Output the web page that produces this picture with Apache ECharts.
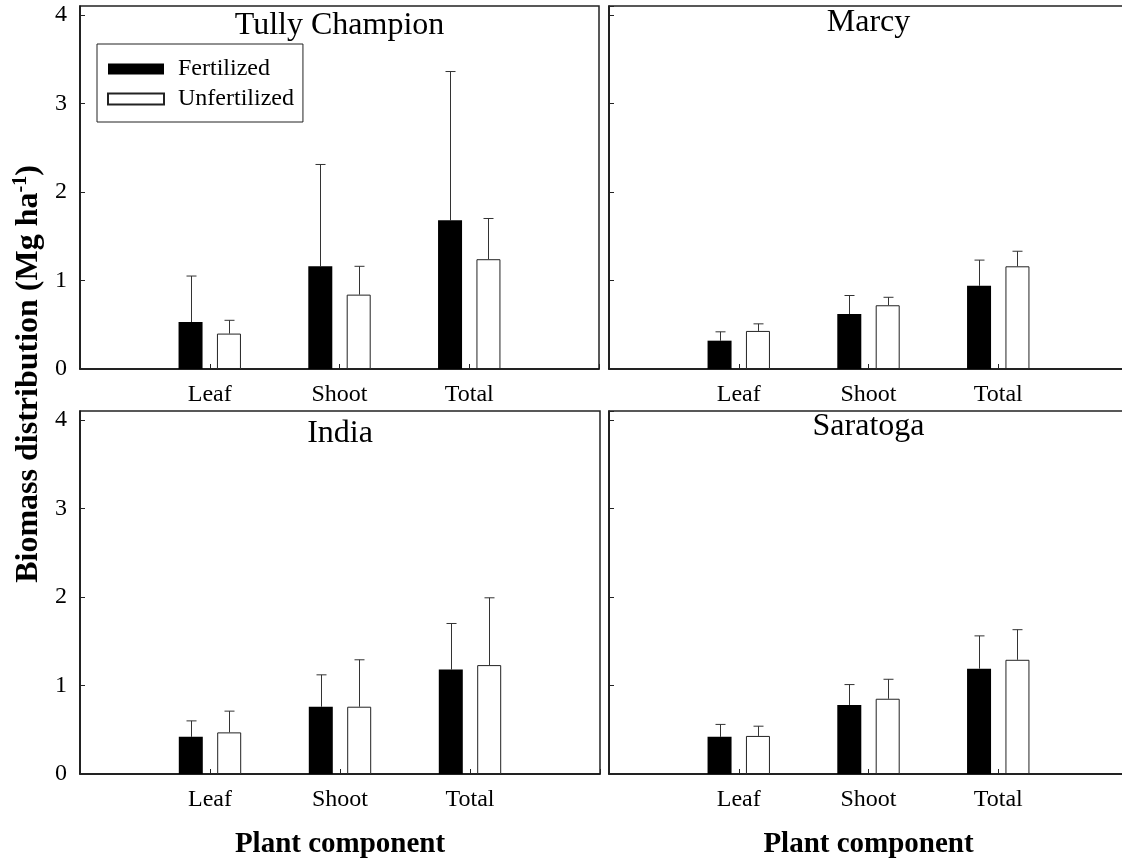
<!DOCTYPE html>
<html>
<head>
<meta charset="utf-8">
<script src="https://cdn.jsdelivr.net/npm/echarts@6/dist/echarts.min.js"></script>
<style>
  html, body { margin: 0; padding: 0; background: #fff; }
  #chart { width: 1122px; height: 860px; }
</style>
</head>
<body>
<div id="chart"></div>
<script>
// ---- data ----
const categories = ['Leaf', 'Shoot', 'Total'];
const panelTitles = ['Tully Champion', 'Marcy', 'India', 'Saratoga'];
const seriesNames = ['Fertilized', 'Unfertilized'];
const yTicks = [0, 1, 2, 3, 4];

const tullyFert = [0.53, 1.16, 1.68];
const tullyFertSD = [0.52, 1.15, 1.68];
const tullyUnfert = [0.40, 0.84, 1.24];
const tullyUnfertSD = [0.15, 0.32, 0.46];

const marcyFert = [0.32, 0.62, 0.94];
const marcyFertSD = [0.10, 0.21, 0.29];
const marcyUnfert = [0.43, 0.72, 1.16];
const marcyUnfertSD = [0.08, 0.09, 0.17];

const indiaFert = [0.42, 0.76, 1.18];
const indiaFertSD = [0.18, 0.36, 0.52];
const indiaUnfert = [0.47, 0.76, 1.23];
const indiaUnfertSD = [0.24, 0.53, 0.76];

const saratogaFert = [0.42, 0.78, 1.19];
const saratogaFertSD = [0.14, 0.23, 0.37];
const saratogaUnfert = [0.43, 0.85, 1.29];
const saratogaUnfertSD = [0.11, 0.22, 0.34];

const panels = [
  { fert: tullyFert, fertSD: tullyFertSD, unfert: tullyUnfert, unfertSD: tullyUnfertSD },
  { fert: marcyFert, fertSD: marcyFertSD, unfert: marcyUnfert, unfertSD: marcyUnfertSD },
  { fert: indiaFert, fertSD: indiaFertSD, unfert: indiaUnfert, unfertSD: indiaUnfertSD },
  { fert: saratogaFert, fertSD: saratogaFertSD, unfert: saratogaUnfert, unfertSD: saratogaUnfertSD }
];

// ---- layout / style ----
const FONT = "'Liberation Serif', 'Times New Roman', serif";
const gridPos = [
  { left: 80, top: 6, width: 519, height: 363 },
  { left: 609, top: 6, width: 519, height: 363 },
  { left: 80, top: 411, width: 520, height: 363 },
  { left: 609, top: 411, width: 519, height: 363 }
];
const titleTops = [10, 6.5, 418, 411];
const BAR_W = 24;
const BAR_GAP = 0.6;
const OFFSET = (BAR_W + BAR_W * BAR_GAP) / 2;
const axisCats = [''].concat(categories, ['']);

const chart = echarts.init(document.getElementById('chart'), null, { renderer: 'canvas' });

const grids = [], xAxes = [], yAxes = [], series = [], titles = [];
gridPos.forEach((g, i) => {
  grids.push(Object.assign({
    show: true, borderColor: '#222', borderWidth: 1.5, backgroundColor: 'transparent',
    containLabel: false, outerBoundsMode: 'none'
  }, g));
  titles.push({
    text: panelTitles[i],
    left: g.left + g.width / 2, top: titleTops[i], textAlign: 'center', padding: 0,
    textStyle: { fontFamily: FONT, fontSize: 32, fontWeight: 'normal', color: '#000' }
  });
  const bottomRow = i >= 2;
  xAxes.push({
    type: 'category', gridIndex: i, data: axisCats, boundaryGap: false,
    axisLine: { lineStyle: { color: '#111', width: 1.5 } },
    axisTick: { show: true, inside: true, length: 5, lineStyle: { color: '#222', width: 1 } },
    axisLabel: { interval: 0, margin: 14, fontFamily: FONT, fontSize: 24, color: '#000' },
    splitLine: { show: false },
    name: bottomRow ? 'Plant component' : '',
    nameLocation: 'middle', nameGap: 56,
    nameTextStyle: { fontFamily: FONT, fontSize: 29, fontWeight: 'bold', color: '#000' }
  });
  const leftCol = (i % 2) === 0;
  yAxes.push({
    type: 'value', gridIndex: i, min: 0, max: 4.1, interval: 1,
    axisLine: { show: true, lineStyle: { color: '#111', width: 1.5 } },
    axisTick: { show: true, inside: true, length: 5, lineStyle: { color: '#222', width: 1 } },
    axisLabel: {
      show: leftCol, margin: 13, fontFamily: FONT, fontSize: 24, color: '#000', showMaxLabel: false,
      formatter: v => (yTicks.indexOf(v) >= 0 ? String(v) : '')
    },
    splitLine: { show: false }
  });
  const p = panels[i];
  series.push({
    name: seriesNames[0], type: 'bar', xAxisIndex: i, yAxisIndex: i,
    barWidth: BAR_W, barGap: (BAR_GAP * 100) + '%',
    itemStyle: { color: '#000', borderColor: '#000', borderWidth: 0 },
    data: ['-'].concat(p.fert, ['-']), z: 3, silent: true
  });
  series.push({
    name: seriesNames[1], type: 'bar', xAxisIndex: i, yAxisIndex: i,
    barWidth: BAR_W, barGap: (BAR_GAP * 100) + '%',
    itemStyle: { color: '#fff', borderColor: '#222', borderWidth: 1 },
    data: ['-'].concat(p.unfert, ['-']), z: 3, silent: true
  });
  const errData = [];
  categories.forEach((c, k) => {
    errData.push([k + 1, p.fert[k], p.fertSD[k], -1]);
    errData.push([k + 1, p.unfert[k], p.unfertSD[k], 1]);
  });
  series.push({
    type: 'custom', xAxisIndex: i, yAxisIndex: i, z: 2, silent: true,
    data: errData,
    renderItem: (params, api) => {
      const ci = api.value(0), mean = api.value(1), sd = api.value(2), side = api.value(3);
      const base = api.coord([ci, mean]);
      const top = api.coord([ci, mean + sd]);
      const x = Math.round(base[0] + side * OFFSET) + 0.5;
      const style = { stroke: '#333', lineWidth: 1 };
      return {
        type: 'group',
        children: [
          { type: 'line', shape: { x1: x, y1: base[1], x2: x, y2: top[1] }, style },
          { type: 'line', shape: { x1: x - 5, y1: top[1], x2: x + 5, y2: top[1] }, style }
        ]
      };
    }
  });
});

const option = {
  backgroundColor: '#fff',
  animation: false,
  title: titles,
  legend: {
    data: seriesNames, orient: 'vertical', left: 97, top: 44,
    padding: [13, 9, 11, 10], itemGap: 6, itemWidth: 56, itemHeight: 11, icon: 'rect',
    borderColor: '#222', borderWidth: 1, selectedMode: false,
    textStyle: { fontFamily: FONT, fontSize: 24, color: '#000', padding: [0, 0, 0, 9] }
  },
  grid: grids, xAxis: xAxes, yAxis: yAxes, series: series,
  graphic: [{
    type: 'text', x: 29, y: 374, rotation: Math.PI / 2,
    style: {
      text: '{a|Biomass distribution (Mg ha}{s|-1}{a|)}',
      align: 'center', verticalAlign: 'middle',
      rich: {
        a: { fontFamily: FONT, fontSize: 32, fontWeight: 'bold', fill: '#000', lineHeight: 36 },
        s: { fontFamily: FONT, fontSize: 20, fontWeight: 'bold', fill: '#000', lineHeight: 20, verticalAlign: 'top' }
      }
    }
  }]
};
chart.setOption(option);
</script>
</body>
</html>
